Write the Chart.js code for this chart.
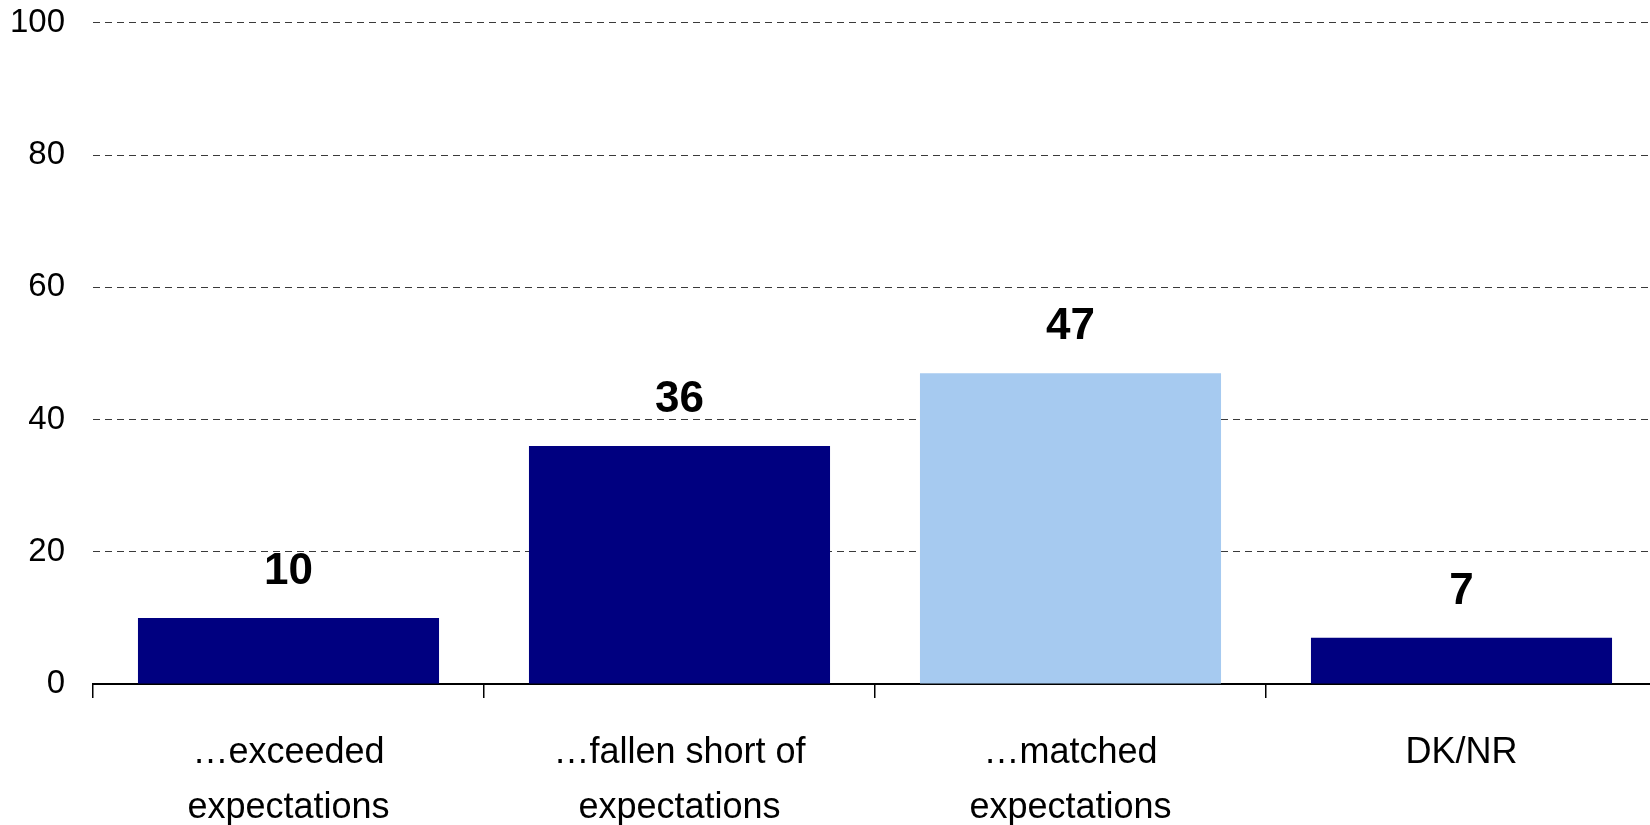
<!DOCTYPE html>
<html>
<head>
<meta charset="utf-8">
<title>Expectations</title>
<script src="https://cdn.jsdelivr.net/npm/chart.js@4.4.1/dist/chart.umd.min.js"></script>
<style>
    html, body { margin: 0; padding: 0; background: #fff; overflow: hidden; }
    /* a bit wider than the window so the last category runs off the right edge */
    .chart-wrap { width: 1657px; height: 825px; position: relative; }
</style>
</head>
<body>
<div class="chart-wrap">
    <canvas id="expectChart"></canvas>
</div>
<script>
// chart data
const categories = [
    ['\u2026exceeded', 'expectations'],
    ['\u2026fallen short of', 'expectations'],
    ['\u2026matched', 'expectations'],
    'DK/NR'
];
const values = [10, 36, 47, 7];
const barColors = ['#000080', '#000080', '#A6CAF0', '#000080'];
const yTicks = [0, 20, 40, 60, 80, 100];

const FONT = "'Liberation Sans', Arial, sans-serif";

// draws the number above each bar
const valueLabels = {
    id: 'valueLabels',
    afterDatasetsDraw(chart) {
        const ctx = chart.ctx;
        const meta = chart.getDatasetMeta(0);
        ctx.save();
        ctx.font = 'bold 44px ' + FONT;
        ctx.fillStyle = '#000';
        ctx.textAlign = 'center';
        ctx.textBaseline = 'middle';
        meta.data.forEach((bar, i) => {
            ctx.fillText(values[i], bar.x, bar.y - 46);
        });
        ctx.restore();
    }
};

function renderChart() {
    const ctx = document.getElementById('expectChart').getContext('2d');

    window.expectChart = new Chart(ctx, {
        type: 'bar',
        data: {
            labels: categories,
            datasets: [{
                data: values,
                backgroundColor: barColors,
                barPercentage: 0.77,
                categoryPercentage: 1.0
            }]
        },
        options: {
            responsive: true,
            maintainAspectRatio: false,
            animation: false,
            layout: { padding: 0 },
            plugins: {
                legend: { display: false },
                tooltip: { enabled: false }
            },
            scales: {
                x: {
                    offset: true,
                    afterFit: s => { s.height = 141; },
                    border: { display: true, color: '#000', width: 2 },
                    grid: {
                        offset: true,
                        drawOnChartArea: false,
                        drawTicks: true,
                        tickLength: 14,
                        color: '#000',
                        lineWidth: 1.5
                    },
                    ticks: {
                        color: '#000',
                        padding: 28,
                        maxRotation: 0,
                        autoSkip: false,
                        font: { family: FONT, size: 36, lineHeight: 1.52 }
                    }
                },
                y: {
                    min: 0,
                    max: 100,
                    afterFit: s => { s.width = 93; },
                    afterBuildTicks: s => { s.ticks = yTicks.map(v => ({ value: v })); },
                    border: { display: false, dash: [7, 5] },
                    grid: {
                        // invisible tick marks, only used to push the labels left
                        drawTicks: true,
                        tickLength: 25,
                        tickColor: 'rgba(0,0,0,0)',
                        color: c => c.tick.value === 0 ? 'rgba(0,0,0,0)' : '#3a3a3a',
                        lineWidth: 1
                    },
                    ticks: {
                        color: '#000',
                        padding: 3,
                        font: { family: FONT, size: 33 }
                    }
                }
            }
        },
        plugins: [valueLabels]
    });
}

document.addEventListener('DOMContentLoaded', renderChart);
</script>
</body>
</html>
